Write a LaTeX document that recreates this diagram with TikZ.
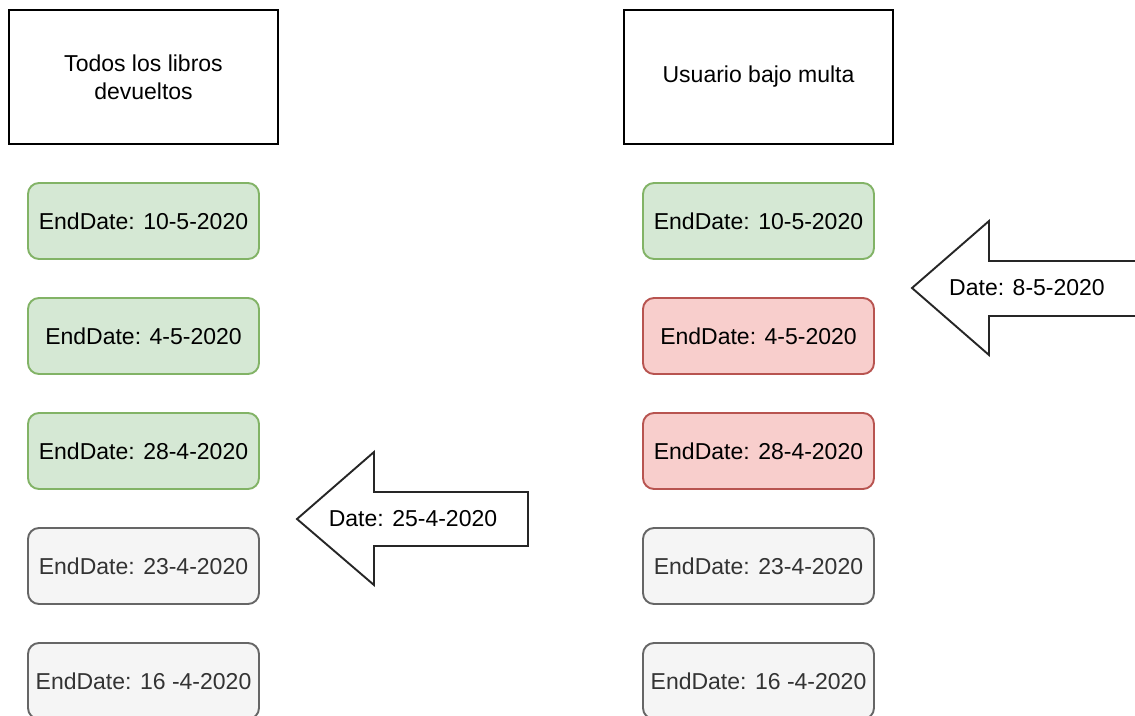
\documentclass[tikz,border=0pt]{standalone}
\usepackage{fontspec}
\setmainfont{Liberation Sans}
\definecolor{okfill}{HTML}{D5E8D4}
\definecolor{okline}{HTML}{82B366}
\definecolor{badfill}{HTML}{F8CECC}
\definecolor{badline}{HTML}{B85450}
\definecolor{oldfill}{HTML}{F5F5F5}
\definecolor{oldline}{HTML}{666666}
\definecolor{oldtext}{HTML}{333333}
\tikzset{
  txt/.style={font=\fontsize{23}{27.6}\selectfont, align=center},
  titlebox/.style={txt, draw=black, line width=1.9pt, fill=white,
    minimum width=269pt, minimum height=134pt, inner sep=0pt},
  datebox/.style={txt, rounded corners=11pt, line width=1.9pt,
    minimum width=231pt, minimum height=76pt, inner sep=0pt},
  okbox/.style={datebox, draw=okline, fill=okfill, text=black},
  badbox/.style={datebox, draw=badline, fill=badfill, text=black},
  oldbox/.style={datebox, draw=oldline, fill=oldfill, text=oldtext},
  arrowshape/.style={draw=black!85, line width=1.9pt, fill=white, line join=miter},
}
\begin{document}
\begin{tikzpicture}[x=1pt, y=-1pt]
\useasboundingbox (0,0) rectangle (1135,715);
\clip (0,0) rectangle (1135,715);
\fill[white] (0,0) rectangle (1135,715);

% column headers
\node[titlebox] (hdrL) at (143.5,77) {Todos los libros\\devueltos};
\node[titlebox] (hdrR) at (758.5,77) {Usuario bajo multa};

% left column: all loans returned
\node[okbox]  (l1) at (143.5,221) {EndDate: 10-5-2020};
\node[okbox]  (l2) at (143.5,336) {EndDate: 4-5-2020};
\node[okbox]  (l3) at (143.5,451) {EndDate: 28-4-2020};
\node[oldbox] (l4) at (143.5,566) {EndDate: 23-4-2020};
\node[oldbox] (l5) at (143.5,681) {EndDate: 16 -4-2020};

% right column: user with a fine
\node[okbox]  (r1) at (758.5,221) {EndDate: 10-5-2020};
\node[badbox] (r2) at (758.5,336) {EndDate: 4-5-2020};
\node[badbox] (r3) at (758.5,451) {EndDate: 28-4-2020};
\node[oldbox] (r4) at (758.5,566) {EndDate: 23-4-2020};
\node[oldbox] (r5) at (758.5,681) {EndDate: 16 -4-2020};

% current-date markers
\draw[arrowshape] (297,519) -- (374,452) -- (374,492) -- (528,492)
  -- (528,546) -- (374,546) -- (374,585) -- cycle;
\node[txt] (dateL) at (413,519) {Date: 25-4-2020};

\draw[arrowshape] (912,288) -- (989,221) -- (989,261) -- (1143,261)
  -- (1143,316) -- (989,316) -- (989,355) -- cycle;
\node[txt] (dateR) at (1027,288) {Date: 8-5-2020};
\end{tikzpicture}
\end{document}
